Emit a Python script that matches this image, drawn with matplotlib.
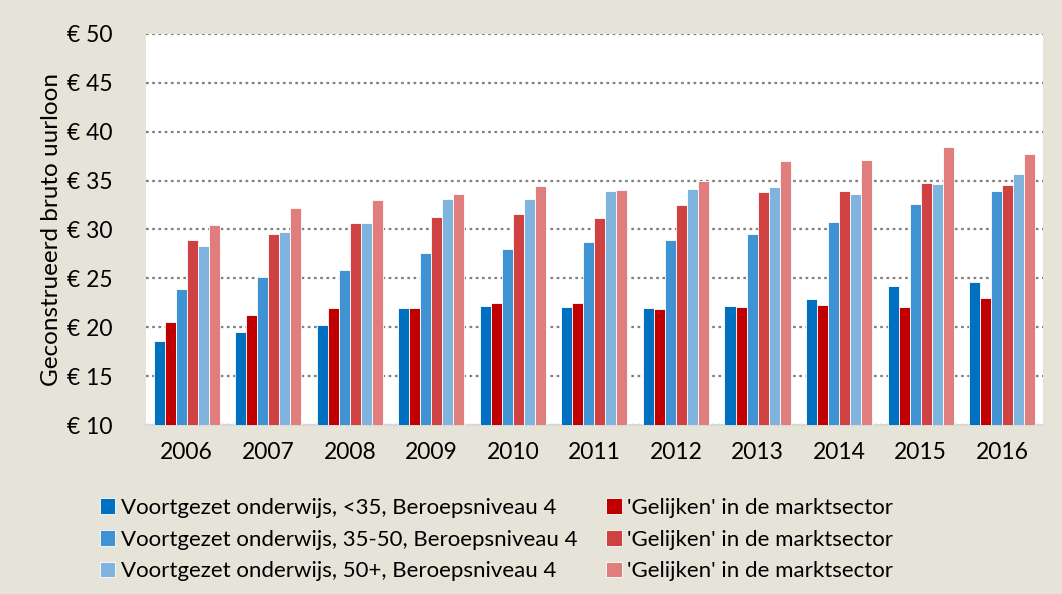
import numpy as np
import matplotlib.pyplot as plt

plt.rcParams['font.family'] = ['Lato', 'DejaVu Sans']

years = ['2006', '2007', '2008', '2009', '2010', '2011', '2012', '2013', '2014', '2015', '2016']

vo_jong = [18.6, 19.5, 20.2, 22.0, 22.2, 22.1, 22.0, 22.2, 22.9, 24.2, 24.6]
markt_jong = [20.5, 21.3, 22.0, 22.0, 22.5, 22.5, 21.9, 22.1, 22.3, 22.1, 23.0]
vo_midden = [23.9, 25.1, 25.9, 27.6, 28.0, 28.7, 28.9, 29.5, 30.8, 32.6, 33.9]
markt_midden = [28.9, 29.5, 30.7, 31.3, 31.6, 31.2, 32.5, 33.8, 33.9, 34.7, 34.5]
vo_oud = [28.3, 29.7, 30.7, 33.1, 33.1, 33.9, 34.1, 34.3, 33.6, 34.6, 35.7]
markt_oud = [30.5, 32.2, 33.0, 33.6, 34.4, 34.0, 35.0, 37.0, 37.1, 38.4, 37.7]

series = [
    (vo_jong, '#0070C0', 'Voortgezet onderwijs, <35, Beroepsniveau 4'),
    (markt_jong, '#C00000', "'Gelijken' in de marktsector"),
    (vo_midden, '#3F93D2', 'Voortgezet onderwijs, 35-50, Beroepsniveau 4'),
    (markt_midden, '#D04141', "'Gelijken' in de marktsector"),
    (vo_oud, '#7EB4DE', 'Voortgezet onderwijs, 50+, Beroepsniveau 4'),
    (markt_oud, '#E07E7E', "'Gelijken' in de marktsector"),
]

bg = '#E6E4D8'
fig = plt.figure(figsize=(10.62, 5.94), dpi=100, facecolor=bg)
ax = fig.add_axes([0.1375, 0.2845, 0.8445, 0.6585])
ax.set_facecolor('white')

x = np.arange(len(years))
w = 0.135
bars = []
for i, (vals, col, lab) in enumerate(series):
    offs = (i - 2.5) * w
    b = ax.bar(x + offs, np.array(vals) - 10, w, bottom=10, color=col,
               edgecolor='white', linewidth=0.6, label=lab, zorder=3)
    bars.append(b)

ax.set_ylim(10, 50)
ax.set_xlim(-0.5, len(years) - 0.5)
ax.set_yticks(range(10, 51, 5))
ax.set_yticklabels(['€ %d' % v for v in range(10, 51, 5)], fontsize=16.5)
ax.set_xticks(x)
ax.set_xticklabels(years, fontsize=16.5)
ax.tick_params(length=0, pad=12)
ax.tick_params(axis='y', pad=24)
ax.yaxis.grid(True, linestyle=(0, (1.2, 1.6)), color='#7F7F7F', linewidth=1.6, zorder=1)
ax.set_axisbelow(True)
for s in ['top', 'right', 'left']:
    ax.spines[s].set_visible(False)
ax.spines['bottom'].set_color('#D9D9D9')
ax.spines['bottom'].set_linewidth(1.5)
ax.set_ylabel('Geconstrueerd bruto uurloon', fontsize=17.5, labelpad=4)

order = [0, 2, 4, 1, 3, 5]
fig.legend([bars[k] for k in order], [series[k][2] for k in order],
           loc='lower left', bbox_to_anchor=(0.075, -0.012), ncol=2, frameon=False,
           fontsize=16, handlelength=0.7, handleheight=0.7, handletextpad=0.25,
           columnspacing=1.3, labelspacing=0.52)

fig.savefig('out.png', dpi=100, facecolor=bg)
